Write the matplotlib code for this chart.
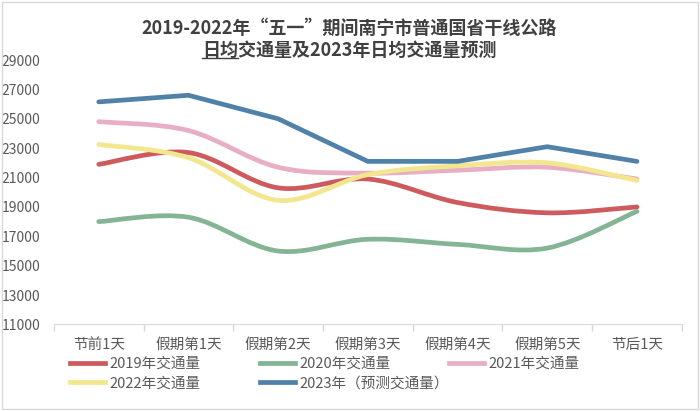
import numpy as np
import matplotlib
matplotlib.use('Agg')
import matplotlib.pyplot as plt
from matplotlib.path import Path
from matplotlib.patches import PathPatch, Rectangle
from matplotlib.lines import Line2D

plt.rcParams['font.family'] = ['Noto Sans CJK SC', 'DejaVu Sans']

# data
days = ['节前1天', '假期第1天', '假期第2天', '假期第3天', '假期第4天', '假期第5天', '节后1天']
v2019 = [21900, 22700, 20300, 20900, 19300, 18600, 19000]
v2020 = [18000, 18300, 16000, 16800, 16450, 16200, 18700]
v2021 = [24800, 24200, 21700, 21300, 21500, 21700, 20900]
v2022 = [23250, 22350, 19450, 21200, 21800, 22000, 20800]
v2023 = [26150, 26600, 25000, 22100, 22100, 23100, 22100]

labels = ['2019年交通量', '2020年交通量', '2021年交通量', '2022年交通量', '2023年（预测交通量）']
colors = ['#cd5b5e', '#83b493', '#e8aec3', '#f2e78e', '#4f81a9']
yticks = list(range(11000, 29001, 2000))

txt_col = '#595959'
lw = 3.4

def smooth_path(x, y, t=1/6.):
    # excel-style smoothed line as bezier segments
    pts = np.column_stack([x, y]).astype(float)
    n = len(pts)
    verts = [pts[0]]
    codes = [Path.MOVETO]
    for i in range(n - 1):
        p0 = pts[max(i - 1, 0)]
        p1 = pts[i]
        p2 = pts[i + 1]
        p3 = pts[min(i + 2, n - 1)]
        verts += [p1 + (p2 - p0) * t, p2 - (p3 - p1) * t, p2]
        codes += [Path.CURVE4] * 3
    return Path(verts, codes)

fig = plt.figure(figsize=(7, 4.11), dpi=100)
ax = fig.add_axes([0.077, 0.2105, 0.897, 0.6435])

x = np.arange(len(days))
for vals, c in zip([v2019, v2020, v2021, v2022], colors[:4]):
    ax.add_patch(PathPatch(smooth_path(x, vals), fill=False, edgecolor=c,
                           lw=lw, capstyle='round', joinstyle='round'))
ax.plot(x, v2023, color=colors[4], lw=lw, solid_joinstyle='round',
        solid_capstyle='round')

ax.set_xlim(-0.5, 6.5)
ax.set_ylim(11000, 29000)
ax.set_yticks(yticks)
ax.set_yticklabels([str(v) for v in yticks])
ax.set_xticks(x)
ax.set_xticklabels(days)
ax.set_xticks(np.arange(-0.5, 7, 1), minor=True)
ax.tick_params(axis='x', which='major', length=0, pad=10, labelsize=10.5, labelcolor=txt_col)
ax.tick_params(axis='x', which='minor', length=5, color='#d9d9d9', width=1)
ax.tick_params(axis='y', length=0, pad=10, labelsize=10, labelcolor=txt_col)
for s in ['top', 'right', 'left']:
    ax.spines[s].set_visible(False)
ax.spines['bottom'].set_color('#d9d9d9')

# title, two lines, first two chars of line 2 underlined
fig.text(0.499, 1 - 28 / 411., '2019-2022年“五一”期间南宁市普通国省干线公路',
         ha='center', va='center', fontsize=13, fontweight='bold', color='#404040')
t2 = fig.text(0.499, 1 - 50 / 411., '日均交通量及2023年日均交通量预测',
              ha='center', va='center', fontsize=13, fontweight='bold', color='#404040')
fig.canvas.draw()
r = fig.canvas.get_renderer()
bb = t2.get_window_extent(r)
tmp = fig.text(0, 0, '日均', fontsize=13, fontweight='bold')
w = tmp.get_window_extent(r).width
tmp.remove()
fw, fh = fig.bbox.width, fig.bbox.height
uy = (bb.y0 + 1) / fh
fig.add_artist(Line2D([bb.x0 / fw, (bb.x0 + w) / fw], [uy, uy],
                      color='#404040', lw=1, transform=fig.transFigure))

# legend in three columns
hs = [Line2D([], [], color=c, lw=lw) for c in colors]
leg_kw = dict(loc='upper left', frameon=False, fontsize=10.5, labelcolor=txt_col,
              handlelength=2.4, handletextpad=0.3, labelspacing=0.4,
              borderpad=0, borderaxespad=0)
fig.legend([hs[0], hs[3]], [labels[0], labels[3]], bbox_to_anchor=(0.1, 0.132), **leg_kw)
fig.legend([hs[1], hs[4]], [labels[1], labels[4]], bbox_to_anchor=(0.371, 0.132), **leg_kw)
fig.legend([hs[2]], [labels[2]], bbox_to_anchor=(0.641, 0.132), **leg_kw)

fig.add_artist(Rectangle((0.003, 0.004), 0.994, 0.992, transform=fig.transFigure,
                         fill=False, edgecolor='#d9d9d9', lw=1))

fig.savefig('out.png', dpi=100)
